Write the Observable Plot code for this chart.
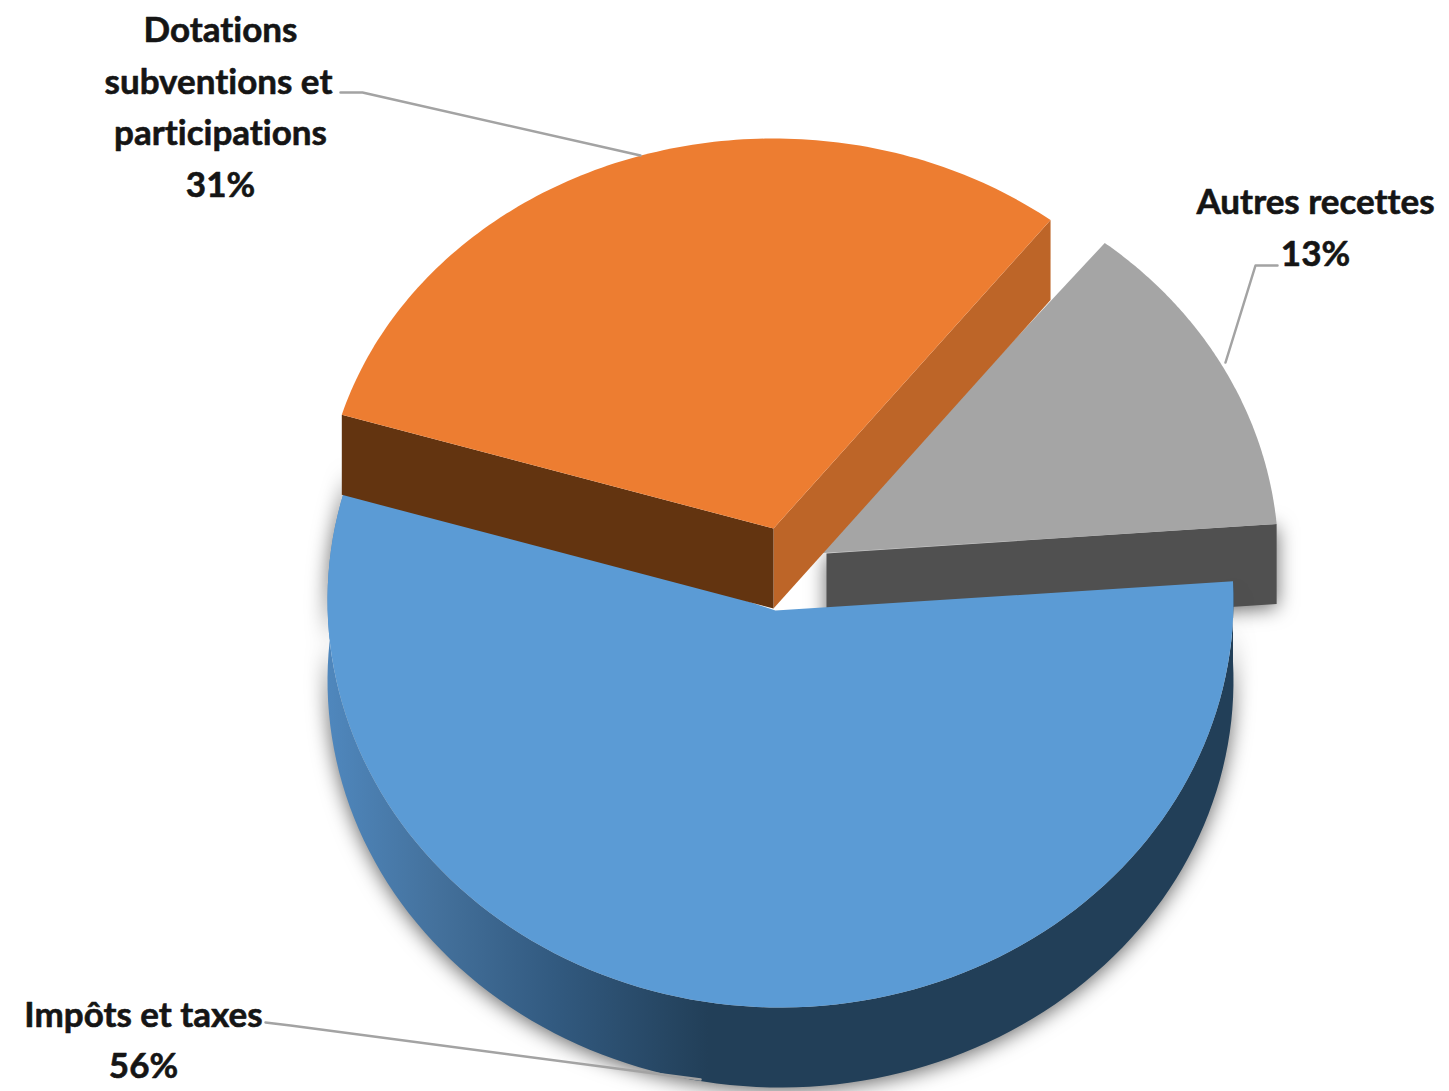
<!DOCTYPE html>
<html><head><meta charset="utf-8">
<style>html,body{margin:0;padding:0;background:#fff}svg{display:block}text{font-variant-ligatures:none;font-feature-settings:"liga" 0}</style>
<script src="https://cdn.jsdelivr.net/npm/d3@7"></script>
<script src="https://cdn.jsdelivr.net/npm/@observablehq/plot@0.6"></script>
</head><body><script>
const categories = ["Autres recettes", "Impôts et taxes", "Dotations subventions et participations"];
const shares = [13, 56, 31];
const labelLines = [
  {t:"Dotations", x:220, y:30}, {t:"subventions et", x:218, y:82},
  {t:"participations", x:220, y:133}, {t:"31%", x:220, y:185},
  {t:"Autres recettes", x:1315, y:202}, {t:"13%", x:1315, y:254},
  {t:"Impôts et taxes", x:143, y:1015}, {t:"56%", x:143, y:1066}
];
const leaders = [
  [[340,92],[362,92],[640,155]],
  [[1277,265],[1255,265],[1225,362]],
  [[265,1022],[290,1025],[700,1079]]
];
const W = 1449, H = 1091;
const startAngle = 38;
const geom = [
  {apex:[815,553], wallApex:[826,553], c:[826,560], rx:452, ry:403, rot:0, depth:80, top:"#a5a5a5", side:"#505050", cut:"#505050"},
  {apex:[775,610], wallApex:[775,610], c:[780,600], rx:453, ry:407, rot:2.5, depth:80, top:"#5b9bd5", side:"url(#blueSide)", cut:"#224059"},
  {apex:[773,528], wallApex:[773,528], c:[773,523], rx:450, ry:385, rot:0, depth:80, top:"#ed7d31", side:"#633410", cut:"#bd6528"}
];
let acc = startAngle;
const slices = shares.map((s,i)=>{
  const a0 = acc, a1 = acc + s*3.6; acc = a1;
  const g = geom[i];
  const pt = a => { const r=(a+g.rot)*Math.PI/180; return [g.c[0]+g.rx*Math.sin(r), g.c[1]-g.ry*Math.cos(r)]; };
  const arc = d3.range(0,121).map(k=>pt(a0+(a1-a0)*k/120));
  return {...g, name:categories[i], arc, first:arc[0], last:arc[120]};
});
const down = (pts,d)=>pts.map(p=>[p[0],p[1]+d]);
const face = (pts,fill,extra={}) => Plot.line([...pts,pts[0]],{x:d=>d[0],y:d=>d[1],fill,stroke:"none",curve:"linear",...extra});
const wall = (a,b,d)=>[a,b,[b[0],b[1]+d],[a[0],a[1]+d]];

const [gray,blue,orange] = slices;
const shadow = "drop-shadow(0px 3px 10px rgba(0,0,0,.6))";
const marks = [
  () => { const defs = d3.create("svg:defs");
    const lg = defs.append("linearGradient").attr("id","blueSide").attr("gradientUnits","userSpaceOnUse")
      .attr("x1",327).attr("x2",1233).attr("y1",0).attr("y2",0);
    [[0,"#4f87bd"],[.12,"#44719c"],[.25,"#325a80"],[.42,"#223f58"],[1,"#223f58"]].forEach(([o,c])=>lg.append("stop").attr("offset",o).attr("stop-color",c));
    return defs.node(); },
  // gray
  face(wall(gray.wallApex,gray.last,gray.depth), gray.cut, {imageFilter:shadow}),
  face([gray.apex,...gray.arc], gray.top),
  // blue
  face([...blue.arc, ...down(blue.arc,blue.depth).reverse()], blue.side, {imageFilter:shadow}),
  face([blue.apex,...blue.arc], blue.top),
  // orange
  face(wall(orange.apex,orange.last,orange.depth), orange.cut),
  face(wall(orange.apex,orange.first,orange.depth), orange.side),
  face([orange.apex,...orange.arc], orange.top),
  ...leaders.map(l=>Plot.line(l,{x:d=>d[0],y:d=>d[1],stroke:"#a3a3a3",strokeWidth:2.5})),
  Plot.text(labelLines,{x:"x",y:"y",text:"t",fontSize:35,fontWeight:700,fontFamily:"Lato",fill:"#151515",stroke:"#151515",strokeWidth:0.6,textAnchor:"middle"})
];
document.body.append(Plot.plot({
  width:W,height:H,margin:0,
  x:{domain:[0,W],range:[0,W],axis:null},
  y:{domain:[0,H],range:[0,H],axis:null},
  style:{background:"#fff"},
  marks
}));
</script></body></html>
